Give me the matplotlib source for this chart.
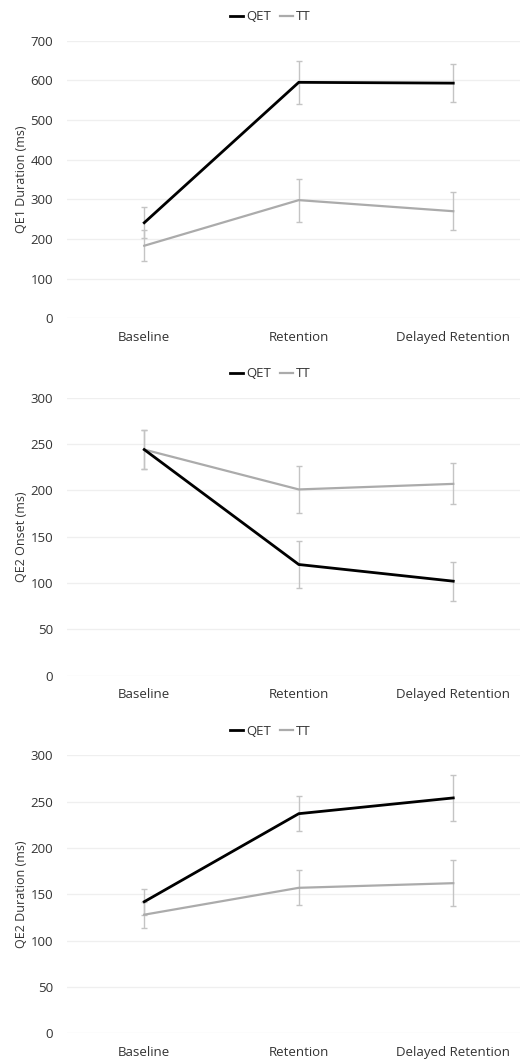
import matplotlib.pyplot as plt

plt.rcParams["font.family"] = ["Open Sans", "DejaVu Sans"]

phases = ["Baseline", "Retention", "Delayed Retention"]

# panel 1: QE1 duration
qe1_dur_qet = [241, 595, 593]
qe1_dur_qet_err = [39, 54, 48]
qe1_dur_tt = [183, 298, 270]
qe1_dur_tt_err = [39, 54, 48]

# panel 2: QE2 onset
qe2_on_qet = [244, 120, 102]
qe2_on_qet_err = [21, 25, 21]
qe2_on_tt = [244, 201, 207]
qe2_on_tt_err = [21, 25, 22]

# panel 3: QE2 duration
qe2_dur_qet = [142, 237, 254]
qe2_dur_qet_err = [14, 19, 25]
qe2_dur_tt = [128, 157, 162]
qe2_dur_tt_err = [14, 19, 25]

panels = [
    ("QE1 Duration (ms)", qe1_dur_qet, qe1_dur_qet_err, qe1_dur_tt, qe1_dur_tt_err, 700, 100),
    ("QE2 Onset (ms)", qe2_on_qet, qe2_on_qet_err, qe2_on_tt, qe2_on_tt_err, 300, 50),
    ("QE2 Duration (ms)", qe2_dur_qet, qe2_dur_qet_err, qe2_dur_tt, qe2_dur_tt_err, 300, 50),
]

W, H = 520, 1061
# (top, bottom) pixel rows of each plot area
rows = [(40.7, 318.3), (397.7, 675.7), (755.3, 1033.3)]
left, right = 67, 520

fig = plt.figure(figsize=(W / 100, H / 100), dpi=100)
text_col = "#333333"
x = list(range(len(phases)))

for (ylabel, qet, qet_err, tt, tt_err, ymax, step), (top, bot) in zip(panels, rows):
    ax = fig.add_axes([left / W, 1 - bot / H, (right - left) / W, (bot - top) / H])
    ax.errorbar(x, qet, yerr=qet_err, fmt="none", ecolor="#c4c4c4", elinewidth=1,
                capsize=2.5, capthick=1, zorder=2)
    ax.errorbar(x, tt, yerr=tt_err, fmt="none", ecolor="#c4c4c4", elinewidth=1,
                capsize=2.5, capthick=1, zorder=2)
    ax.plot(x, qet, color="#000000", lw=2.0, label="QET", zorder=4,
            solid_joinstyle="miter")
    ax.plot(x, tt, color="#ababab", lw=1.6, label="TT", zorder=3,
            solid_joinstyle="miter")

    ax.set_ylim(0, ymax)
    ax.set_yticks(range(0, ymax + 1, step))
    ax.set_xlim(-0.5, 2.432)
    ax.set_xticks(x)
    ax.set_xticklabels(phases)
    ax.grid(axis="y", color="#efefef", lw=0.9)
    ax.set_axisbelow(True)
    for s in ax.spines.values():
        s.set_visible(False)
    ax.tick_params(length=0, labelsize=9.5, colors=text_col)
    ax.tick_params(axis="y", pad=10)
    ax.tick_params(axis="x", pad=9)
    ax.set_ylabel(ylabel, fontsize=9, color=text_col, labelpad=1.5)

    ax.legend(loc="lower center", bbox_to_anchor=(270.5 / W, 1 - (top - 12) / H),
              bbox_transform=fig.transFigure, ncol=2, frameon=False, fontsize=9.5,
              handlelength=1.0, handletextpad=0.2, columnspacing=0.7,
              labelcolor=text_col, borderaxespad=0)

fig.savefig("out.png", dpi=100)
